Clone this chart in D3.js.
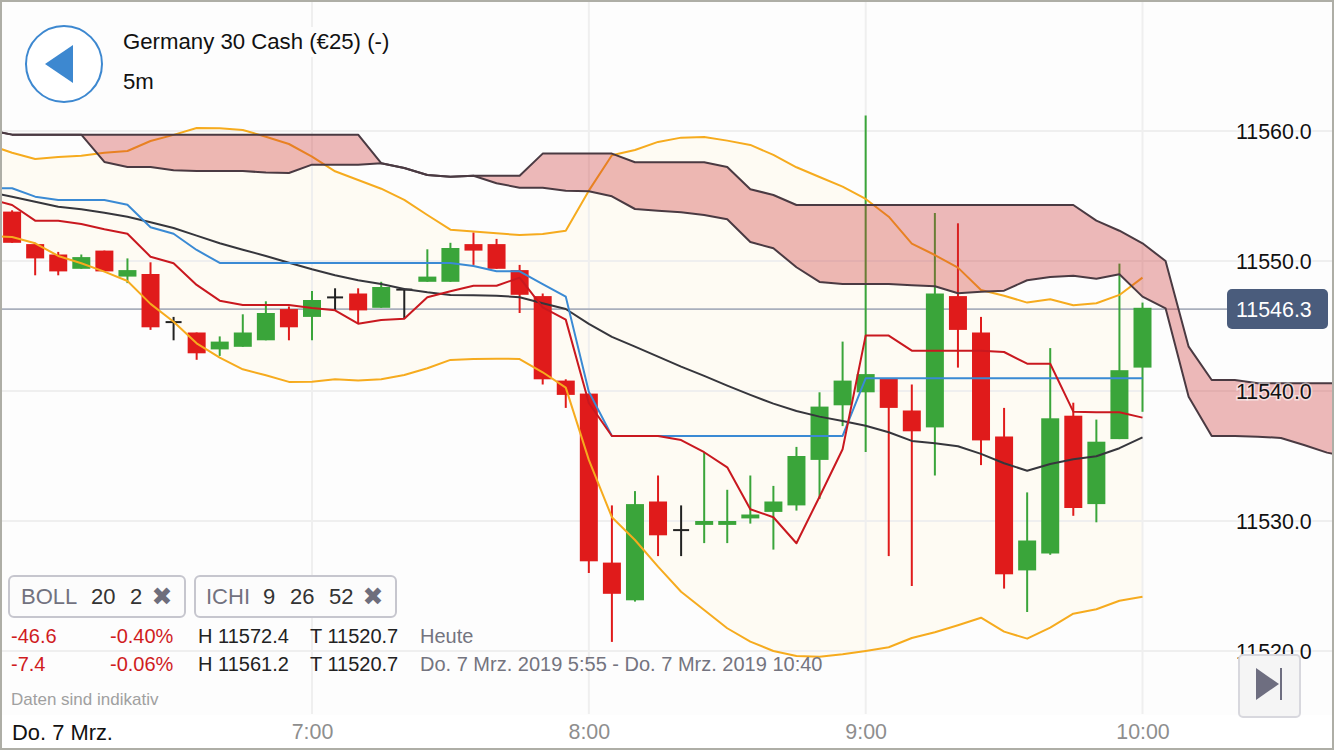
<!DOCTYPE html>
<html>
<head>
<meta charset="utf-8">
<script src="https://cdnjs.cloudflare.com/ajax/libs/d3/7.8.5/d3.min.js"></script>
<style>
  html, body { margin: 0; padding: 0; background: #fdfdfd; overflow: hidden; }
  svg { display: block; font-family: "Liberation Sans", Arial, sans-serif; }
</style>
</head>
<body>
<div id="chart"></div>
<script>
const w = 1334;
const h = 750;

//candles, one every 5 minutes from 5:55 to 10:00
const opens = [11553.8, 11551.3, 11550.5, 11549.4, 11550.8, 11548.8, 11549.0, 11545.3, 11544.5, 11543.2,
  11543.4, 11543.9, 11546.3, 11545.7, 11547.2, 11547.5, 11546.4, 11547.8, 11548.4, 11548.4,
  11551.3, 11551.3, 11549.3, 11547.3, 11540.8, 11539.8, 11526.8, 11523.9, 11531.5, 11529.3,
  11529.7, 11529.7, 11530.2, 11530.7, 11531.2, 11534.7, 11538.9, 11539.9, 11541.0, 11538.5,
  11537.2, 11547.3, 11544.5, 11536.5, 11526.2, 11527.5, 11538.1, 11531.3, 11536.3, 11541.8];
const highs = [11553.9, 11551.4, 11550.7, 11550.5, 11550.8, 11550.2, 11549.9, 11545.7, 11544.5, 11544.2,
  11545.9, 11546.9, 11546.5, 11547.7, 11547.9, 11547.9, 11548.4, 11547.9, 11550.9, 11551.4,
  11552.2, 11551.7, 11549.7, 11547.5, 11540.9, 11539.8, 11531.2, 11532.3, 11533.5, 11531.2,
  11535.3, 11532.4, 11533.5, 11532.7, 11535.7, 11539.9, 11543.8, 11561.2, 11541.0, 11540.5,
  11553.7, 11552.9, 11545.7, 11538.7, 11532.2, 11543.3, 11539.1, 11537.8, 11549.8, 11546.8];
const lows = [11551.4, 11548.9, 11548.9, 11549.4, 11549.2, 11548.3, 11544.7, 11543.9, 11542.4, 11542.7,
  11543.4, 11543.9, 11543.9, 11543.9, 11546.2, 11545.2, 11546.4, 11545.6, 11548.4, 11548.4,
  11549.7, 11549.4, 11546.0, 11540.5, 11538.7, 11526.0, 11520.7, 11523.8, 11527.3, 11527.3,
  11528.3, 11528.3, 11529.8, 11527.8, 11530.8, 11531.7, 11537.3, 11535.3, 11527.3, 11525.0,
  11533.5, 11541.8, 11534.3, 11524.8, 11523.0, 11527.4, 11530.4, 11529.9, 11536.3, 11538.4];
const closes = [11551.4, 11550.2, 11549.2, 11550.3, 11549.2, 11549.3, 11544.9, 11545.3, 11542.9, 11543.8,
  11544.5, 11546.0, 11544.9, 11547.0, 11547.2, 11546.2, 11548.0, 11547.8, 11548.8, 11551.0,
  11550.8, 11549.4, 11547.4, 11540.9, 11539.7, 11526.9, 11524.4, 11531.3, 11528.9, 11529.3,
  11530.0, 11530.0, 11530.5, 11531.5, 11535.0, 11538.8, 11540.8, 11541.3, 11538.7, 11536.9,
  11547.5, 11544.7, 11536.2, 11525.9, 11528.5, 11537.9, 11531.0, 11536.1, 11541.6, 11546.4];

//indicator series start one bar earlier, at 5:50
const bollUpper = [11558.93, 11558.33, 11557.85, 11558.00, 11558.10, 11558.33, 11558.46, 11559.23, 11559.70, 11560.23,
  11560.21, 11560.08, 11559.56, 11559.00, 11558.03, 11556.90, 11556.23, 11555.56, 11554.70, 11553.54,
  11552.41, 11552.26, 11552.13, 11552.00, 11552.08, 11552.33, 11555.41, 11558.13, 11558.54, 11559.16,
  11559.49, 11559.54, 11559.26, 11558.93, 11558.16, 11557.21, 11556.46, 11555.72, 11554.77, 11553.41,
  11551.33, 11550.46, 11549.49, 11547.77, 11547.33, 11546.80, 11547.06, 11546.60, 11546.75, 11547.39, 11548.72];
const bollMiddle = [11555.31, 11554.95, 11554.56, 11554.18, 11553.98, 11553.72, 11553.41, 11552.98, 11552.54, 11551.95,
  11551.36, 11550.87, 11550.39, 11549.87, 11549.36, 11548.90, 11548.52, 11548.23, 11547.85, 11547.60,
  11547.39, 11547.36, 11547.33, 11547.21, 11546.75, 11546.31, 11545.16, 11544.16, 11543.41, 11542.64,
  11541.87, 11541.16, 11540.41, 11539.70, 11539.03, 11538.46, 11538.03, 11537.70, 11537.33, 11536.83,
  11536.16, 11535.98, 11535.75, 11535.16, 11534.44, 11533.87, 11534.39, 11534.75, 11534.98, 11535.60, 11536.44];
const bollLower = [11551.93, 11551.85, 11551.36, 11550.39, 11549.83, 11549.18, 11548.46, 11546.70, 11545.33, 11543.67,
  11542.56, 11541.67, 11541.21, 11540.70, 11540.72, 11540.90, 11540.80, 11540.90, 11541.23, 11541.75,
  11542.39, 11542.46, 11542.49, 11542.46, 11541.44, 11540.26, 11534.70, 11530.29, 11528.54, 11526.49,
  11524.56, 11523.16, 11521.75, 11520.72, 11520.00, 11519.62, 11519.56, 11519.75, 11520.00, 11520.29,
  11521.00, 11521.44, 11521.98, 11522.56, 11521.49, 11520.95, 11521.80, 11522.87, 11523.21, 11523.87, 11524.18];
const ichiBase = [11555.60, 11555.60, 11554.95, 11554.70, 11554.70, 11554.70, 11554.33, 11552.60, 11552.10, 11550.85,
  11549.85, 11549.85, 11549.85, 11549.85, 11549.85, 11549.85, 11549.85, 11549.85, 11549.85, 11549.85,
  11549.85, 11549.62, 11549.21, 11549.21, 11548.23, 11547.26, 11539.95, 11536.54, 11536.54, 11536.54,
  11536.54, 11536.54, 11536.54, 11536.54, 11536.54, 11536.54, 11536.54, 11536.54, 11540.98, 11540.98,
  11540.98, 11540.98, 11540.98, 11540.98, 11540.98, 11540.98, 11540.98, 11540.98, 11540.98, 11540.98, 11540.98];
const ichiConversion = [11554.77, 11554.31, 11553.10, 11553.10, 11552.85, 11552.44, 11552.10, 11550.33, 11549.83, 11548.16,
  11546.95, 11546.62, 11546.62, 11546.62, 11546.39, 11546.21, 11545.18, 11545.46, 11545.56, 11547.21,
  11547.67, 11548.10, 11548.10, 11548.72, 11546.44, 11545.49, 11539.08, 11536.54, 11536.54, 11536.54,
  11536.23, 11535.29, 11534.13, 11530.90, 11530.29, 11528.29, 11531.87, 11535.52, 11544.26, 11544.26,
  11543.10, 11543.10, 11543.10, 11543.10, 11543.00, 11542.10, 11542.10, 11538.41, 11538.36, 11538.36, 11537.95];

//the cloud runs on past the last candle
const cloudTop = [11560.08, 11559.72, 11559.72, 11559.72, 11559.72, 11559.72, 11559.72, 11559.72, 11559.72, 11559.72,
  11559.72, 11559.72, 11559.72, 11559.72, 11559.72, 11559.72, 11559.72, 11557.52, 11557.16, 11556.62,
  11556.49, 11556.56, 11556.56, 11556.56, 11558.26, 11558.26, 11558.26, 11558.26, 11557.60, 11557.60,
  11557.60, 11557.60, 11557.23, 11555.52, 11555.08, 11554.31, 11554.31, 11554.31, 11554.31, 11554.31,
  11554.31, 11554.31, 11554.31, 11554.31, 11554.31, 11554.31, 11554.31, 11554.31, 11553.10, 11552.33,
  11551.36, 11550.00, 11543.41, 11540.85, 11540.85, 11540.60, 11540.60, 11540.60, 11540.60, 11540.60];
const cloudBottom = [11560.08, 11559.72, 11559.72, 11559.72, 11559.72, 11557.62, 11557.23, 11557.23, 11556.98, 11556.93,
  11556.93, 11556.93, 11556.80, 11556.77, 11557.41, 11557.41, 11557.41, 11557.52, 11557.16, 11556.62,
  11556.49, 11556.56, 11555.98, 11555.64, 11555.64, 11555.41, 11555.36, 11554.98, 11554.00, 11553.87,
  11553.75, 11553.54, 11553.21, 11551.46, 11550.98, 11549.52, 11548.39, 11548.23, 11548.23, 11548.23,
  11548.13, 11548.06, 11547.52, 11547.64, 11547.72, 11548.52, 11548.77, 11548.87, 11548.64, 11548.98,
  11547.26, 11546.36, 11539.56, 11536.54, 11536.54, 11536.49, 11536.39, 11535.85, 11535.26, 11534.93];

const priceTicks = [11560, 11550, 11540, 11530, 11520];
const timeTicks = [new Date(2019, 2, 7, 7), new Date(2019, 2, 7, 8), new Date(2019, 2, 7, 9), new Date(2019, 2, 7, 10)];
const lastPrice = 11546.3;

const barTime = i => new Date(2019, 2, 7, 5, 50 + i * 5);

const xScale = d3.scaleTime().
domain([timeTicks[0], timeTicks[3]]).
range([312, 1142.5]);

const yScale = d3.scaleLinear().
domain([11560, 11520]).
range([131, 651]);

const svg = d3.select("#chart").
append("svg").
attr("width", w).
attr("height", h);

svg.append("clipPath").
attr("id", "plot").
append("rect").
attr("x", 0).
attr("y", 0).
attr("width", w).
attr("height", 720);

svg.append("rect").
attr("width", w).
attr("height", h).
attr("fill", "#fdfdfd");

//bollinger band background
const bandArea = d3.area().
x((d, i) => xScale(barTime(i))).
y0((d, i) => yScale(bollLower[i])).
y1(d => yScale(d));

const plot = svg.append("g").attr("clip-path", "url(#plot)");

plot.append("path").
attr("d", bandArea(bollUpper)).
attr("fill", "#fef9ef").
attr("fill-opacity", 0.75);

//grid
plot.selectAll(".hgrid").
data(priceTicks).
enter().
append("line").
attr("x1", 0).
attr("x2", w).
attr("y1", d => yScale(d)).
attr("y2", d => yScale(d)).
attr("stroke", "#efefef").
attr("stroke-width", 2);

plot.selectAll(".vgrid").
data(timeTicks).
enter().
append("line").
attr("x1", d => xScale(d)).
attr("x2", d => xScale(d)).
attr("y1", 0).
attr("y2", 714).
attr("stroke", "#efefef").
attr("stroke-width", 2);

//last price line
plot.append("line").
attr("x1", 0).
attr("x2", 1230).
attr("y1", yScale(lastPrice)).
attr("y2", yScale(lastPrice)).
attr("stroke", "#a9afbc").
attr("stroke-width", 1.7);

//candles
const candles = opens.map((d, i) => ({
  time: barTime(i + 1),
  open: d,
  high: highs[i],
  low: lows[i],
  close: closes[i]
}));

const candleColor = d => {
  if (d.close > d.open) {
    return "#3aa53a";
  } else if (d.close < d.open) {
    return "#e01b1b";
  }
  return "#222222";
};

plot.selectAll(".wick").
data(candles).
enter().
append("line").
attr("x1", d => xScale(d.time)).
attr("x2", d => xScale(d.time)).
attr("y1", d => yScale(d.high)).
attr("y2", d => yScale(d.low)).
attr("stroke", candleColor).
attr("stroke-width", 2);

plot.selectAll(".body").
data(candles.filter(d => d.open !== d.close)).
enter().
append("rect").
attr("x", d => xScale(d.time) - 9).
attr("width", 18).
attr("y", d => yScale(Math.max(d.open, d.close))).
attr("height", d => yScale(Math.min(d.open, d.close)) - yScale(Math.max(d.open, d.close))).
attr("fill", candleColor);

//open equals close, just a small bar
plot.selectAll(".doji").
data(candles.filter(d => d.open === d.close)).
enter().
append("line").
attr("x1", d => xScale(d.time) - 8).
attr("x2", d => xScale(d.time) + 8).
attr("y1", d => yScale(d.open)).
attr("y2", d => yScale(d.open)).
attr("stroke", candleColor).
attr("stroke-width", 2);

const seriesLine = d3.line().
x((d, i) => xScale(barTime(i))).
y(d => yScale(d));

const drawLine = (values, color) => plot.append("path").
attr("d", seriesLine(values)).
attr("fill", "none").
attr("stroke", color).
attr("stroke-width", 2).
attr("stroke-linejoin", "round");

drawLine(bollUpper, "#f6ab1e");
drawLine(bollLower, "#f6ab1e");
drawLine(bollMiddle, "#36363c");
drawLine(ichiBase, "#3a8ad4");
drawLine(ichiConversion, "#c9181f");

//cloud goes over the candles, the wicks show through it
const cloudArea = d3.area().
x((d, i) => xScale(barTime(i))).
y0((d, i) => yScale(cloudBottom[i])).
y1(d => yScale(d));

plot.append("path").
attr("d", cloudArea(cloudTop)).
attr("fill", "#cc2f2f").
attr("fill-opacity", 0.33);

drawLine(cloudTop, "#4a3a42");
drawLine(cloudBottom, "#4a3a42");

//axes
const yAxis = d3.axisRight(yScale).
tickValues(priceTicks).
tickSize(0).
tickPadding(0).
tickFormat(d3.format(".1f"));

const yAxisGroup = svg.append("g").
attr("transform", "translate(1236,0.8)").
call(yAxis);

yAxisGroup.select(".domain").remove();
yAxisGroup.selectAll("text").
attr("font-size", 21.4).
attr("font-family", "Liberation Sans").
attr("fill", "#111").
attr("stroke", "#ffffff").
attr("stroke-opacity", 0.55).
attr("stroke-width", 3).
attr("paint-order", "stroke");

//white strip behind the time labels
svg.append("rect").
attr("x", 0).
attr("y", 715).
attr("width", w).
attr("height", 35).
attr("fill", "#ffffff");

const xAxis = d3.axisBottom(xScale).
tickValues(timeTicks).
tickSize(0).
tickPadding(0).
tickFormat(d3.timeFormat("%-H:%M"));

const xAxisGroup = svg.append("g").
attr("transform", "translate(0,724)").
call(xAxis);

xAxisGroup.select(".domain").remove();
xAxisGroup.selectAll("text").
attr("font-size", 21.4).
attr("font-family", "Liberation Sans").
attr("fill", "#8e8e8e");

//last price label
svg.append("rect").
attr("x", 1227).
attr("y", 289).
attr("width", 101).
attr("height", 40).
attr("rx", 5).
attr("fill", "#4a5c7c");

svg.append("text").
attr("x", 1236).
attr("y", 317).
attr("font-size", 21.4).
attr("fill", "#ffffff").
text(d3.format(".1f")(lastPrice));

const label = (x, y, str, size, color) => svg.append("text").
attr("x", x).
attr("y", y).
attr("font-size", size).
attr("fill", color).
text(str);

//title with the back button
svg.append("rect").
attr("x", 118).
attr("y", 27).
attr("width", 278).
attr("height", 30).
attr("fill", "#fdfdfd");

svg.append("circle").
attr("cx", 64).
attr("cy", 64).
attr("r", 38).
attr("fill", "#ffffff").
attr("stroke", "#3d88d0").
attr("stroke-width", 2);

svg.append("polygon").
attr("points", "45,64 73,45 73,83").
attr("fill", "#3d88d0");

label(123, 49, "Germany 30 Cash (€25) (-)", 22.2, "#111");
label(123, 89, "5m", 22.2, "#111");

//indicator chips
const chips = [
  { x: 8, width: 178, name: "BOLL", nameX: 21, params: [["20", 91], ["2", 130]], closeX: 162 },
  { x: 194, width: 203, name: "ICHI", nameX: 206, params: [["9", 263], ["26", 290], ["52", 329]], closeX: 373 }
];

chips.forEach(chip => {
  svg.append("rect").
  attr("x", chip.x + 1).
  attr("y", 576).
  attr("width", chip.width - 2).
  attr("height", 41).
  attr("rx", 5).
  attr("fill", "#fcfcfc").
  attr("stroke", "#c6c6ce").
  attr("stroke-width", 2);

  label(chip.nameX, 604, chip.name, 22, "#72727f");
  chip.params.forEach(p => label(p[1], 604, p[0], 22, "#333"));
  label(chip.closeX, 605, "✖", 25, "#6e6e7c").
  attr("text-anchor", "middle").
  attr("font-family", "DejaVu Sans");
});

//stats rows
label(11, 643, "-46.6", 20, "#d01c1f");
label(110, 643, "-0.40%", 20, "#d01c1f");
label(198, 643, "H 11572.4", 20, "#222");
label(310, 643, "T 11520.7", 20, "#222");
label(420, 643, "Heute", 20, "#74747f");
label(11, 671, "-7.4", 20, "#d01c1f");
label(110, 671, "-0.06%", 20, "#d01c1f");
label(198, 671, "H 11561.2", 20, "#222");
label(310, 671, "T 11520.7", 20, "#222");
label(420, 671, "Do. 7 Mrz. 2019 5:55 - Do. 7 Mrz. 2019 10:40", 20, "#74747f");
label(11, 705, "Daten sind indikativ", 17, "#a0a0a0");
label(12, 740, "Do. 7 Mrz.", 21.9, "#111");

//jump to end button
svg.append("rect").
attr("x", 1239).
attr("y", 655).
attr("width", 61).
attr("height", 62).
attr("rx", 4).
attr("fill", "#f5f5f5").
attr("stroke", "#d8d8de").
attr("stroke-width", 2);

svg.append("polygon").
attr("points", "1256,668 1279,684 1256,700").
attr("fill", "#6e6e80");

svg.append("rect").
attr("x", 1280).
attr("y", 668).
attr("width", 2).
attr("height", 32).
attr("fill", "#6e6e80");

//window frame
svg.append("rect").
attr("x", 1).
attr("y", 1).
attr("width", w - 2).
attr("height", h - 2).
attr("fill", "none").
attr("stroke", "#aeaea6").
attr("stroke-width", 2);
</script>
</body>
</html>
